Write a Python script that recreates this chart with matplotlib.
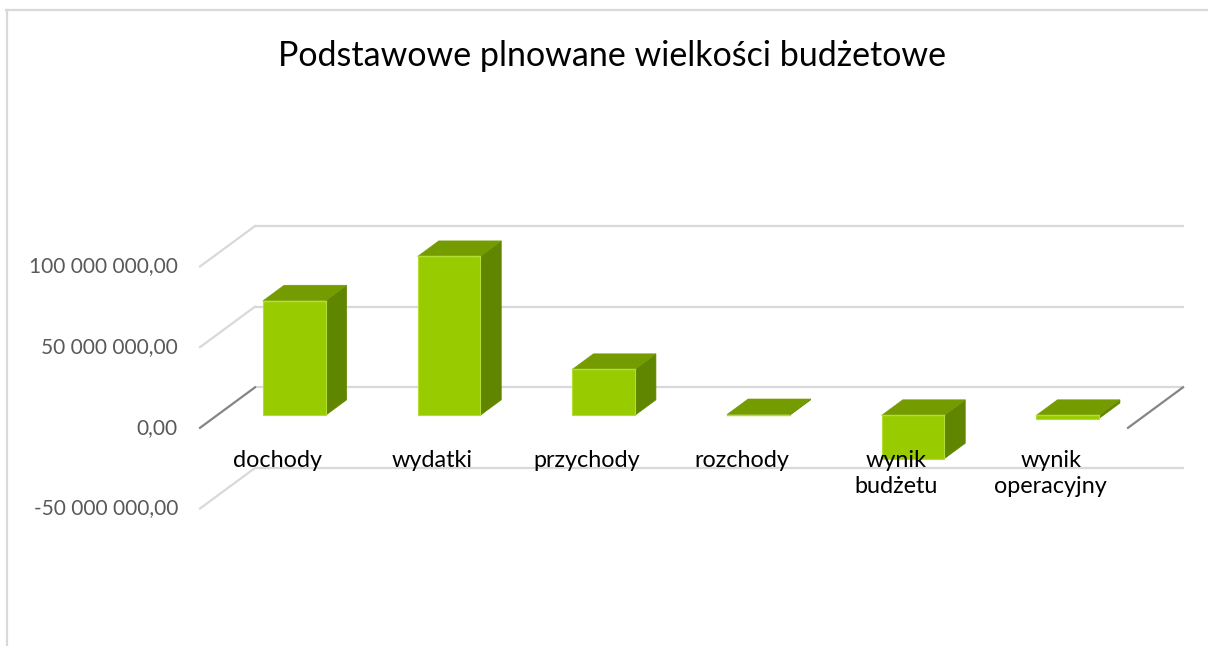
import matplotlib
matplotlib.use('Agg')
import matplotlib.pyplot as plt
from matplotlib.patches import Polygon
from matplotlib.lines import Line2D

# ---- data ----
categories = ['dochody', 'wydatki', 'przychody', 'rozchody', 'wynik\nbudżetu', 'wynik\noperacyjny']
values = [71.0e6, 98.5e6, 28.5e6, 0.5e6, -26.9e6, -2.0e6]
yticks = [-50e6, 0, 50e6, 100e6]
ytick_labels = ['-50 000 000,00', '0,00', '50 000 000,00', '100 000 000,00']
title = 'Podstawowe plnowane wielkości budżetowe'

# ---- style ----
FONT = ['Lato', 'DejaVu Sans']
plt.rcParams['font.family'] = FONT
front_c, top_c, side_c, edge_c = '#99cc00', '#749c00', '#608600', '#b2dd33'
grid_c, zero_c = '#d9d9d9', '#858585'

W, H = 1208, 646
fig = plt.figure(figsize=(W / 100, H / 100), dpi=100)
fig.patch.set_facecolor('white')

# back wall region (pixels)
x0, x1 = 255, 1183
ytop, ybot = 226, 468
ax = fig.add_axes([x0 / W, 1 - ybot / H, (x1 - x0) / W, (ybot - ytop) / H])
ax.set_xlim(-0.5, len(categories) - 0.5)
ax.set_ylim(yticks[0], yticks[-1])
ax.axis('off')

sx = (x1 - x0) / len(categories)            # px per category unit
sy = (ybot - ytop) / (yticks[-1] - yticks[0])  # px per value unit


def off(px, py):
    return px / sx, py / sy


wall_dx, wall_dy = off(-55, -40.5)   # back wall -> front plane
bar_dx, bar_dy = off(-38, -28)        # back wall -> bar front face
dep_dx, dep_dy = off(21, 15.5)        # bar depth
half_w = 0.202

xl, xr = -0.5, len(categories) - 0.5
# gridlines: back wall + left side wall
for t in yticks:
    c = zero_c if t == 0 else grid_c
    ax.add_line(Line2D([xl, xr], [t, t], color=grid_c, lw=1.6, zorder=1, clip_on=False))
    ax.add_line(Line2D([xl + wall_dx, xl], [t + wall_dy, t], color=c, lw=1.6, zorder=1, clip_on=False))
# right floor edge at zero
ax.add_line(Line2D([xr + wall_dx, xr], [wall_dy, 0], color=zero_c, lw=1.6, zorder=1, clip_on=False))

# tick labels
for t, lab in zip(yticks, ytick_labels):
    ax.text(xl + wall_dx - 22 / sx, t + wall_dy, lab, ha='right', va='center',
            fontsize=15, color='#595959', clip_on=False)

# bars
for i, v in enumerate(values):
    cx = i + bar_dx
    lo, hi = min(0, v), max(0, v)
    bl, br = cx - half_w, cx + half_w
    b, t = lo + bar_dy, hi + bar_dy
    front = Polygon([(bl, b), (br, b), (br, t), (bl, t)], closed=True,
                    facecolor=front_c, edgecolor=edge_c, lw=0.8, zorder=3, clip_on=False)
    side = Polygon([(br, b), (br + dep_dx, b + dep_dy), (br + dep_dx, t + dep_dy), (br, t)],
                   closed=True, facecolor=side_c, edgecolor=side_c, lw=0.5, zorder=3, clip_on=False)
    top = Polygon([(bl, t), (br, t), (br + dep_dx, t + dep_dy), (bl + dep_dx, t + dep_dy)],
                  closed=True, facecolor=top_c, edgecolor=top_c, lw=0.5, zorder=3, clip_on=False)
    for p in (side, top, front):
        ax.add_patch(p)
    ax.add_line(Line2D([bl, br], [t, t], color=edge_c, lw=1.0, zorder=4, clip_on=False))

# category labels on the front plane
for i, lab in enumerate(categories):
    ax.text(i + wall_dx, wall_dy - 22 / sy, lab, ha='center', va='top',
            fontsize=16.8, color='black', linespacing=1.3, clip_on=False)

fig.text(0.5065, 1 - 56 / H, title, ha='center', va='center', fontsize=24.5, color='black')

# chart border (top and left)
fig.add_artist(Line2D([6 / W, 1], [1 - 9.5 / H, 1 - 9.5 / H], transform=fig.transFigure,
                      color=grid_c, lw=1.6))
fig.add_artist(Line2D([7 / W, 7 / W], [0, 1 - 9.5 / H], transform=fig.transFigure,
                      color=grid_c, lw=1.6))

fig.savefig('out.png', dpi=100, facecolor='white')
